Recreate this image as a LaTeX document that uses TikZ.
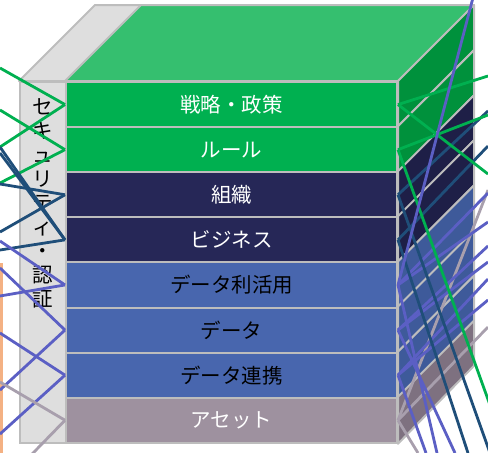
\documentclass[tikz,border=0pt]{standalone}
\usepackage{fontspec}
\setmainfont{Noto Sans CJK JP}
\usetikzlibrary{calc}
\definecolor{topg}{HTML}{35BF6F}
\definecolor{frg}{HTML}{00B050}
\definecolor{sdg}{HTML}{00913C}
\definecolor{frn}{HTML}{262757}
\definecolor{sdn}{HTML}{1E1F47}
\definecolor{frb}{HTML}{4866AE}
\definecolor{sdb}{HTML}{3E5A9A}
\definecolor{frp}{HTML}{9E919F}
\definecolor{sdp}{HTML}{7E7180}
\definecolor{sepc}{HTML}{BDBDBD}
\definecolor{panelc}{HTML}{DEDEDE}
\definecolor{lgreen}{HTML}{00B050}
\definecolor{lnavy}{HTML}{1F4E79}
\definecolor{lpurple}{HTML}{5B5FC4}
\definecolor{lgrey}{HTML}{A89FAD}
\definecolor{lorange}{HTML}{F4B183}
\begin{document}
\begin{tikzpicture}[x=1pt,y=-1pt,
  layer/.style={draw=sepc, line width=2pt, minimum width=331pt, minimum height=45.1pt, inner sep=0pt, font=\fontsize{20.5}{20.5}\selectfont},
  sideface/.style={draw=sepc, line width=2pt, line join=round},
  conn/.style={line width=2.8pt},
  cg/.style={conn, draw=lgreen},
  cn/.style={conn, draw=lnavy},
  cp/.style={conn, draw=lpurple},
  cq/.style={conn, draw=lgrey},
  co/.style={line width=2.5pt, draw=lorange}]
\useasboundingbox (0,0) rectangle (488,453);
\begin{scope}
\clip (0,0) rectangle (488,453);
% security panel
\node[draw=sepc, fill=panelc, line width=2pt, minimum width=46pt, minimum height=361pt, inner sep=0pt] (sec) at (43,262.5) {};
\filldraw[sideface, fill=panelc] (sec.north west) -- (sec.north east) -- ++(76,-76) -- ($(sec.north west)+(76,-76)$) -- cycle;
% layers
\node[layer, fill=frg, text=white] (L0) at (231.5,104.55) {戦略・政策};
\node[layer, fill=frg, text=white] (L1) at (231.5,149.65) {ルール};
\node[layer, fill=frn, text=white] (L2) at (231.5,194.75) {組織};
\node[layer, fill=frn, text=white] (L3) at (231.5,239.85) {ビジネス};
\node[layer, fill=frb, text=black] (L4) at (231.5,284.95) {データ利活用};
\node[layer, fill=frb, text=black] (L5) at (231.5,330.05) {データ};
\node[layer, fill=frb, text=black] (L6) at (231.5,375.15) {データ連携};
\node[layer, fill=frp, text=white] (L7) at (231.5,420.25) {アセット};
% top face
\filldraw[sideface, fill=topg] (L0.north west) -- (L0.north east) -- ++(76,-76) -- ($(L0.north west)+(76,-76)$) -- cycle;
% side faces
\foreach \n/\c in {L0/sdg,L1/sdg,L2/sdn,L3/sdn,L4/sdb,L5/sdb,L6/sdb,L7/sdp}{
  \filldraw[sideface, fill=\c] (\n.north east) -- ++(76,-76) -- ++(0,45.1) -- (\n.south east) -- cycle;
}
% vertical text
\node[font=\fontsize{20.5}{24}\selectfont, align=center, inner sep=0pt, text=black] (sectext) at (43,203) {セ\\キ\\ュ\\リ\\テ\\ィ\\・\\認\\証};
% free ends, left
\coordinate (a1) at (0,68);
\coordinate (a2) at (0,147);
\coordinate (a3) at (0,110);
\coordinate (a4) at (0,183);
\coordinate (b1) at (0,147);
\coordinate (b2) at (0,153);
\coordinate (b3) at (0,184);
\coordinate (b4) at (0,232);
\coordinate (b5) at (0,250);
\coordinate (c1) at (0,241);
\coordinate (c2) at (0,296);
\coordinate (c3) at (0,268);
\coordinate (c4) at (0,390);
\coordinate (c5) at (0,333);
\coordinate (c6) at (0,434);
\coordinate (d1) at (0,382);
\coordinate (d2) at (0,487);
\coordinate (o1) at (1.5,263);
\coordinate (o2) at (1.5,460);
% free ends, right
\coordinate (e1) at (488,76);
\coordinate (e2) at (488,174);
\coordinate (e3) at (488,115);
\coordinate (e4) at (490,405);
\coordinate (f1) at (488,111);
\coordinate (f2) at (490,453);
\coordinate (f3) at (488,146);
\coordinate (f4) at (468,453);
\coordinate (g1) at (475,-10);
\coordinate (g2) at (488,193);
\coordinate (g3) at (488,222);
\coordinate (g4) at (488,246);
\coordinate (g5) at (488,262);
\coordinate (g6) at (488,279);
\coordinate (g7) at (488,300);
\coordinate (g8) at (437,453);
\coordinate (g9) at (455,453);
\coordinate (g10) at (426,453);
\coordinate (h1) at (488,327);
\coordinate (h2) at (488,190);
\coordinate (h3) at (418,453);
% orange edge
\draw[co] (o1) -- (o2);
% left connectors
\draw[cg] (a1) -- (L0.west);
\draw[cg] (a2) -- (L0.west);
\draw[cg] (a3) -- (L1.west);
\draw[cg] (a4) -- (L1.west);
\draw[cn] (b1) -- (L3.west);
\draw[cn] (b2) -- (L3.west);
\draw[cn] (b3) -- (L2.west);
\draw[cn] (b4) -- (L2.west);
\draw[cn] (b5) -- (L3.west);
\draw[cp] (c1) -- (L4.west);
\draw[cp] (c2) -- (L4.west);
\draw[cp] (c3) -- (L5.west);
\draw[cp] (c4) -- (L5.west);
\draw[cp] (c5) -- (L6.west);
\draw[cp] (c6) -- (L6.west);
\draw[cq] (d1) -- (L7.west);
\draw[cq] (d2) -- (L7.west);
% right connectors
\draw[cq] (L7.east) -- (h1);
\draw[cq] (L7.east) -- (h2);
\draw[cq] (L7.east) -- (h3);
\draw[cp] (L4.east) -- (g2);
\draw[cp] (L4.east) -- (g3);
\draw[cp] (L5.east) -- (g4);
\draw[cp] (L5.east) -- (g5);
\draw[cp] (L6.east) -- (g6);
\draw[cp] (L6.east) -- (g7);
\draw[cp] (L4.east) -- (g8);
\draw[cp] (L5.east) -- (g9);
\draw[cp] (L6.east) -- (g10);
\draw[cn] (L2.east) -- (f1);
\draw[cn] (L2.east) -- (f2);
\draw[cn] (L3.east) -- (f3);
\draw[cn] (L3.east) -- (f4);
\draw[cg] (L0.east) -- (e1);
\draw[cg] (L0.east) -- (e2);
\draw[cg] (L1.east) -- (e3);
\draw[cg] (L1.east) -- (e4);
\draw[cp] (L4.east) -- (g1);
\end{scope}
\end{tikzpicture}
\end{document}
